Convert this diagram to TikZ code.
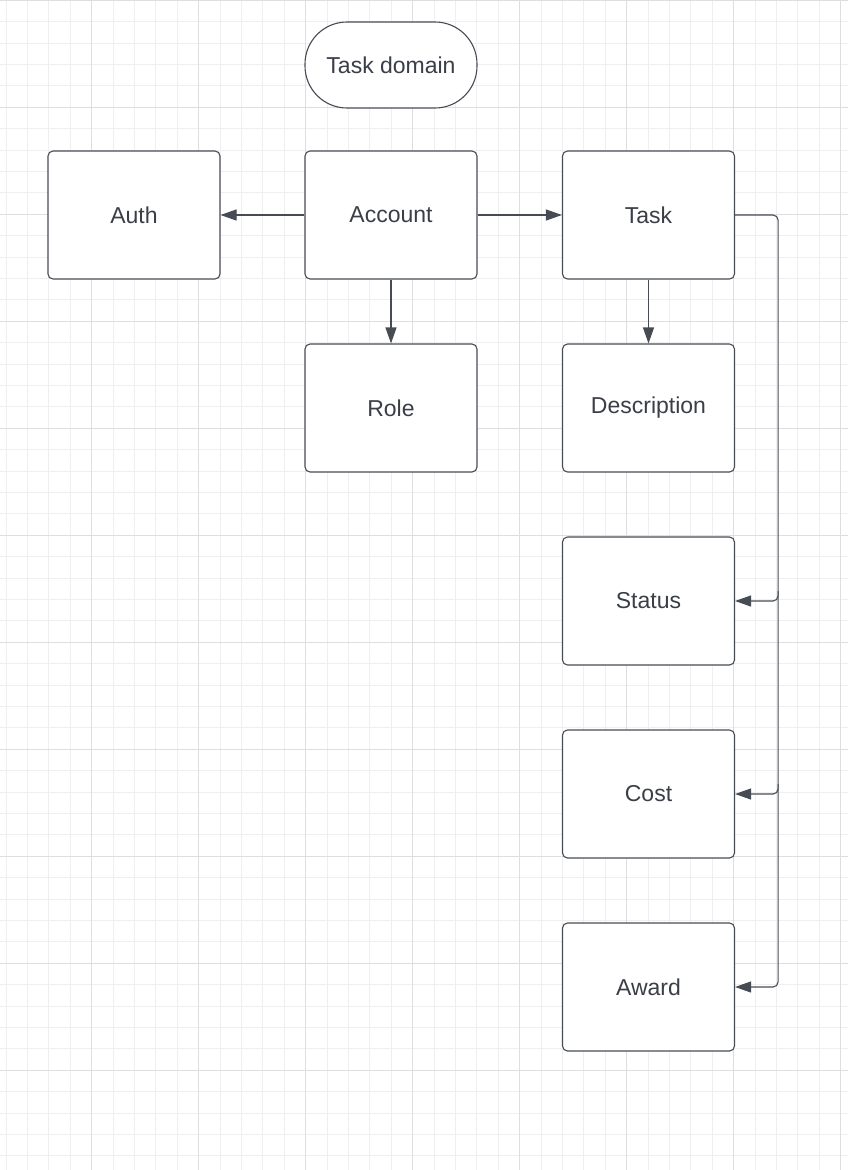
\documentclass[tikz,border=0pt]{standalone}
\usepackage{fontspec}
\setmainfont{Liberation Sans}
\usetikzlibrary{arrows.meta,calc}
\definecolor{txt}{HTML}{3A3F47}
\definecolor{edge}{HTML}{474C54}
\definecolor{gridminor}{HTML}{EFEFEF}
\definecolor{gridmajor}{HTML}{DEDEDE}
\tikzset{
  box/.style={draw=edge, line width=1.1pt, fill=white, rounded corners=5pt,
    minimum width=172pt, minimum height=128pt, inner sep=0pt, text=txt,
    font=\fontsize{23pt}{27pt}\selectfont},
  pill/.style={box, minimum height=86pt, rounded corners=42pt},
  conn/.style={draw=edge, line width=1.1pt,
    -{Triangle[length=16pt,width=11pt]}},
  bus/.style={draw=edge, line width=1.1pt, rounded corners=5pt,
    -{Triangle[length=16pt,width=11pt]}}
}
\begin{document}
\begin{tikzpicture}[x=1pt,y=-1pt]
\useasboundingbox[fill=white] (0,0) rectangle (848,1170);
% grid
\foreach \i in {0,...,39}{
  \pgfmathsetmacro\gx{6.1+21.4*\i}
  \draw[gridminor, line width=1pt] (\gx,0) -- (\gx,1170);
}
\foreach \i in {0,...,55}{
  \pgfmathsetmacro\gy{0.3+21.4*\i}
  \draw[gridminor, line width=1pt] (0,\gy) -- (848,\gy);
}
\foreach \i in {0,...,7}{
  \pgfmathsetmacro\gx{91.7+107*\i}
  \draw[gridmajor, line width=1.2pt] (\gx,0) -- (\gx,1170);
}
\foreach \i in {0,...,10}{
  \pgfmathsetmacro\gy{0.3+107*\i}
  \draw[gridmajor, line width=1.2pt] (0,\gy) -- (848,\gy);
}
% nodes
\node[pill] (dom) at (391,65) {Task domain};
\node[box] (auth) at (134,215) {Auth};
\node[box] (account) at (391,215) {Account};
\node[box] (task) at (648.5,215) {Task};
\node[box] (role) at (391,408) {Role};
\node[box] (desc) at (648.5,408) {Description};
\node[box] (status) at (648.5,601) {Status};
\node[box] (cost) at (648.5,794) {Cost};
\node[box] (award) at (648.5,987) {Award};
% connectors
\draw[conn] (account.west) -- (auth.east);
\draw[conn] (account.east) -- (task.west);
\draw[conn] (account.south) -- (role.north);
\draw[conn] (task.south) -- (desc.north);
\coordinate (busTop) at ($(task.east)+(43,0)$);
\coordinate (busS) at ($(busTop |- status.east)+(0,-10)$);
\coordinate (busC) at ($(busTop |- cost.east)+(0,-10)$);
\draw[bus] (task.east) -- (busTop) |- (award.east);
\draw[bus] (busS) |- (status.east);
\draw[bus] (busC) |- (cost.east);
\end{tikzpicture}
\end{document}
